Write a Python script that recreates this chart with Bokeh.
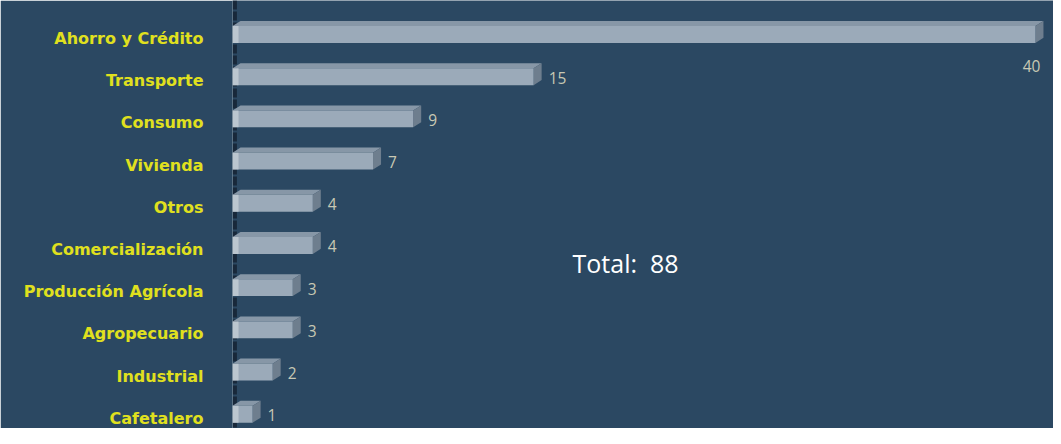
from bokeh.plotting import figure
from bokeh.models import Range1d, FixedTicker, Span, Label, ColumnDataSource
from bokeh.core.properties import value
from bokeh.embed import file_html
from bokeh.resources import INLINE

categories = ["Ahorro y Crédito", "Transporte", "Consumo", "Vivienda", "Otros",
              "Comercialización", "Producción Agrícola", "Agropecuario",
              "Industrial", "Cafetalero"]
values = [40, 15, 9, 7, 4, 4, 3, 3, 2, 1]

BG = "#2B4862"
FRONT = "#9BAAB9"
TOP = "#8797A7"
SIDE = "#6E7E8E"
CAP = "#C9D1D8"

n = len(categories)
label_y = [-i for i in range(n)]
bar_shift = 0.095
bar_y = [y + bar_shift for y in label_y]
h = 0.40        # front face height (data units)
dx = 0.40       # 3D depth, x
dy = 0.12       # 3D depth, y
x_end = 40.9

p = figure(width=1053, height=428, output_backend="svg", toolbar_location=None,
           x_range=Range1d(0, x_end), y_range=Range1d(-9.242, 0.9005),
           min_border_left=232, min_border_right=0, min_border_top=0, min_border_bottom=0)
p.background_fill_color = BG
p.border_fill_color = BG
p.outline_line_color = None
p.grid.visible = False
p.xaxis.visible = False

ya = p.yaxis[0]
ya.ticker = FixedTicker(ticks=label_y)
ya.major_label_overrides = {y: c for y, c in zip(label_y, categories)}
ya.axis_line_color = None
ya.major_tick_line_color = None
ya.minor_tick_line_color = None
ya.major_tick_out = 0
ya.major_tick_in = 0
ya.major_label_standoff = 29
ya.major_label_text_color = "#E0E01E"
ya.major_label_text_font = "DejaVu Sans"
ya.major_label_text_font_style = "bold"
ya.major_label_text_font_size = "16px"

# dark wall line
p.add_layout(Span(location=0.12, dimension="height", line_color="#18283A",
                  line_width=4, line_dash="9 2", level="underlay"))

# top faces and side faces
top_xs, top_ys, side_xs, side_ys = [], [], [], []
for v, y in zip(values, bar_y):
    yt, yb = y + h / 2, y - h / 2
    top_xs.append([0, v, v + dx, dx])
    top_ys.append([yt, yt, yt + dy, yt + dy])
    side_xs.append([v, v, v + dx, v + dx])
    side_ys.append([yb, yt, yt + dy, yb + dy])
p.patches(top_xs, top_ys, fill_color=TOP, line_color=None)
p.patches(side_xs, side_ys, fill_color=SIDE, line_color=None)
p.hbar(y=bar_y, left=0, right=values, height=h, fill_color=FRONT, line_color=None)
p.hbar(y=bar_y, left=0, right=[min(0.3, v) for v in values], height=h,
       fill_color=CAP, fill_alpha=0.7, line_color=None)

# value labels
lx, ly, lt, la, lo = [], [], [], [], []
for v, y in zip(values, bar_y):
    if v + dx + 1.2 > x_end:
        lx.append(v); ly.append(y - 0.74); la.append("right"); lo.append(5)
    else:
        lx.append(v + dx); ly.append(y - 0.02); la.append("left"); lo.append(7)
    lt.append(str(v))
src = ColumnDataSource(dict(x=lx, y=ly, t=lt, a=la, o=lo))
p.text(x="x", y="y", text="t", source=src, text_align="a", x_offset="o",
       text_baseline="middle", text_color="#C8C8B4", text_font_size="15.5px",
       text_font=value("Open Sans"))

total = sum(values)
p.add_layout(Label(x=16.94, y=-5.42 + bar_shift, text=f"Total:\u00a0 {total}",
                   text_color="white", text_font="Open Sans", text_font_size="25px",
                   text_baseline="middle", text_align="left"))

open("out.html", "w").write(file_html(p, INLINE))
